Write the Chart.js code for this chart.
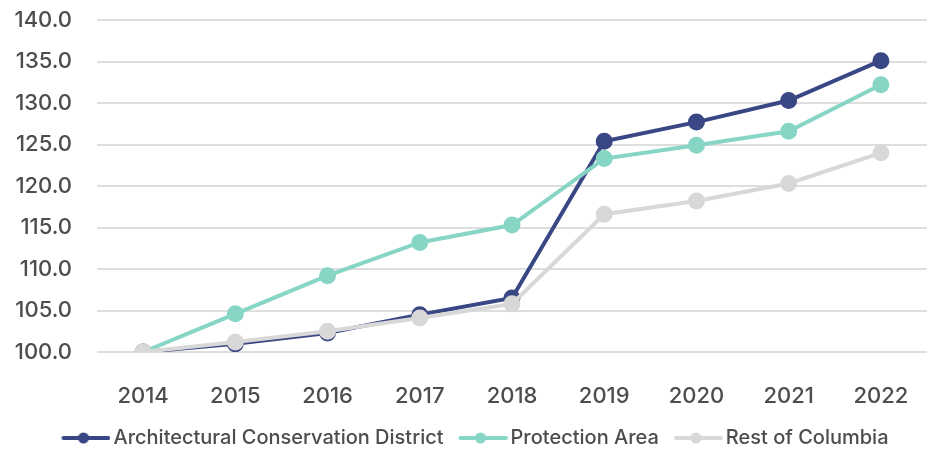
<!DOCTYPE html>
<html><head><meta charset="utf-8">
<script src="https://cdn.jsdelivr.net/npm/chart.js@4/dist/chart.umd.min.js"></script>
<style>html,body{margin:0;padding:0;background:#fff;}#wrap{width:927px;height:449px;}</style>
</head><body><div id="wrap"><canvas id="c" width="927" height="449"></canvas></div>
<script>
const years = ["2014","2015","2016","2017","2018","2019","2020","2021","2022"];
const acd = [100.0, 101.0, 102.3, 104.5, 106.5, 125.4, 127.7, 130.3, 135.1];
const protectionArea = [100.0, 104.6, 109.2, 113.2, 115.3, 123.3, 124.9, 126.6, 132.2];
const restOfColumbia = [100.0, 101.2, 102.5, 104.1, 105.8, 116.6, 118.2, 120.3, 124.0];
const seriesNames = ["Architectural Conservation District","Protection Area","Rest of Columbia"];
const colors = ['#3a4785','#86d5c5','#d8d8d8'];

const F = "Inter, 'Open Sans', sans-serif";
const ICON_BOX = 47;
function legendIcon(col){
  const cv = document.createElement('canvas'); cv.width = ICON_BOX + 14; cv.height = 14;
  const g = cv.getContext('2d');
  const x0 = cv.width - 49;
  g.strokeStyle = col; g.lineWidth = 4; g.lineCap='round';
  g.beginPath(); g.moveTo(x0+2,7); g.lineTo(cv.width-2,7); g.stroke();
  g.fillStyle = col; g.beginPath(); g.arc(x0+22,7,5.5,0,Math.PI*2); g.fill();
  return cv;
}
const shiftLegend = {id:'shiftLegend', afterLayout(chart){ const l = chart.legend; l.left += 3; l.right += 3; }};
new Chart(document.getElementById('c'), {
  type: 'line',
  data: {
    labels: years,
    datasets: [
      {label: seriesNames[0], data: acd, borderColor:colors[0], backgroundColor:colors[0], borderWidth:4, pointRadius:6.5, order:2},
      {label: seriesNames[1], data: protectionArea, borderColor:colors[1], backgroundColor:colors[1], borderWidth:4, pointRadius:6.5, order:1},
      {label: seriesNames[2], data: restOfColumbia, borderColor:colors[2], backgroundColor:colors[2], borderWidth:4, pointRadius:6.5, order:0}
    ]
  },
  plugins:[shiftLegend],
  options: {
    responsive:false, animation:false,
    layout:{autoPadding:false, padding:{left:12,right:0,top:0,bottom:-9}},
    scales: {
      x: {offset:true, grid:{display:false}, border:{display:false},
          ticks:{color:'#4d4d4d', font:{family:F, size:22, weight:500}, padding:23},
          afterFit(s){ s.height = 66; s.paddingLeft = 0; s.paddingRight = 0; }},
      y: {min:100, max:140, grid:{color:'#dedede', lineWidth:2, drawTicks:false}, border:{display:false},
          ticks:{stepSize:5, color:'#4d4d4d', font:{family:F, size:22, weight:500}, padding:25, callback:v=>v.toFixed(1)},
          afterFit(s){ s.width = 85; s.paddingTop = 20; s.paddingBottom = 0; }}
    },
    plugins: {
      legend:{position:'bottom', labels:{usePointStyle:true, pointStyleWidth:ICON_BOX, color:'#4d4d4d', font:{family:F, size:20, weight:500}, padding:10,
        generateLabels(chart){
          return chart.data.datasets.map((d,i)=>({text:d.label, fillStyle:d.borderColor, strokeStyle:d.borderColor, lineWidth:0, pointStyle:legendIcon(d.borderColor), datasetIndex:i, fontColor:'#4d4d4d'}));
        }}},
      tooltip:{enabled:false}
    }
  }
});
</script></body></html>
